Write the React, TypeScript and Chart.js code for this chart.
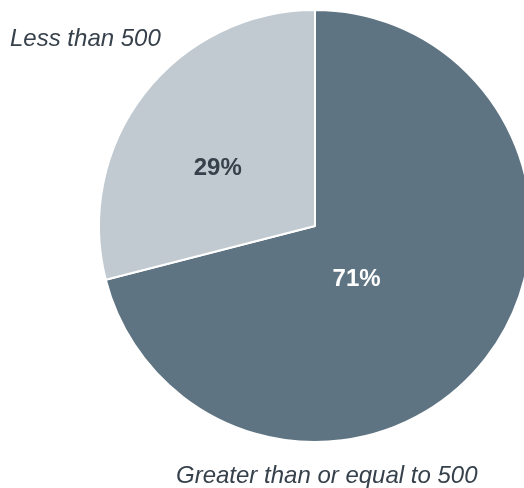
import React, { useEffect, useRef } from "react";
import { Chart, registerables } from "chart.js";

Chart.register(...registerables);

const categories = ["Greater than or equal to 500", "Less than 500"];
const shares = [71, 29];
const sliceColors = ["#5F7483", "#C0CAD0"];

const labelPlugin = {
  id: "pieLabels",
  afterDatasetsDraw(chart: any) {
    const { ctx } = chart;
    const meta = chart.getDatasetMeta(0);
    const tune = [
      { off: 14.2, frac: 0.313, color: "#FFFFFF" },
      { off: -7.2, frac: 0.523, color: "#37414B" },
    ];
    ctx.save();
    meta.data.forEach((arc: any, i: number) => {
      const { x, y, startAngle, endAngle, outerRadius } = arc.getProps(
        ["x", "y", "startAngle", "endAngle", "outerRadius"],
        true
      );
      const mid = (startAngle + endAngle) / 2 + (tune[i].off * Math.PI) / 180;
      const r = outerRadius * tune[i].frac;
      const lx = x + Math.cos(mid) * r;
      const ly = y + Math.sin(mid) * r;
      ctx.font = "bold 24px 'Liberation Sans', Arial, sans-serif";
      ctx.fillStyle = tune[i].color;
      ctx.textAlign = "center";
      ctx.textBaseline = "middle";
      ctx.fillText(shares[i] + "%", lx, ly);
    });
    ctx.font = "italic 24px 'Liberation Sans', Arial, sans-serif";
    ctx.fillStyle = "#37414B";
    ctx.textAlign = "left";
    ctx.textBaseline = "alphabetic";
    ctx.fillText(categories[1], 10, 46);
    ctx.fillText(categories[0], 176, 483);
    ctx.restore();
  },
};

export default function App() {
  const ref = useRef<HTMLCanvasElement>(null);
  useEffect(() => {
    if (!ref.current) return;
    const chart = new Chart(ref.current, {
      type: "pie",
      data: {
        labels: categories,
        datasets: [
          {
            data: shares,
            backgroundColor: sliceColors,
            borderColor: "#FFFFFF",
            borderWidth: 2,
          },
        ],
      },
      options: {
        responsive: false,
        animation: false,
        radius: 216,
        layout: { padding: { top: 0, bottom: 36, left: 0, right: 0 } },
        plugins: {
          legend: { display: false },
          tooltip: { enabled: false },
        },
      } as any,
      plugins: [labelPlugin],
    });
    return () => chart.destroy();
  }, []);
  return (
    <div
      style={{
        position: "absolute",
        left: 0,
        top: 0,
        width: 524,
        height: 488,
        overflow: "hidden",
        background: "#FFFFFF",
      }}
    >
      <canvas ref={ref} width={630} height={488} style={{ display: "block" }} />
    </div>
  );
}
